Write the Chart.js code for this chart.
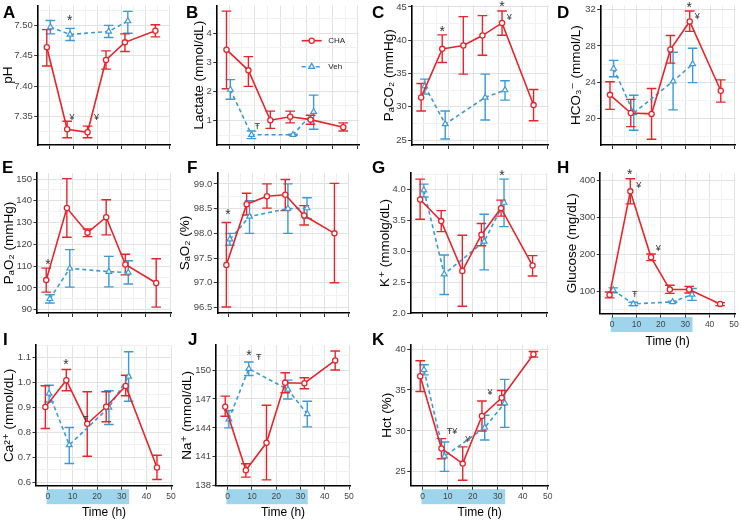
<!DOCTYPE html>
<html>
<head>
<meta charset="utf-8">
<title>CHA vs Veh blood chemistry</title>
<script src="https://cdn.jsdelivr.net/npm/chart.js@4.4.1/dist/chart.umd.min.js"></script>
<style>
  html, body { margin: 0; padding: 0; background: #fff; }
  #wrap { position: relative; width: 741px; height: 520px; overflow: hidden; }
  #wrap canvas { position: absolute; }
</style>
</head>
<body>
<div id="wrap"></div>
<script>
// sampling times (h); CHA sits a bit left of the nominal time, Veh a bit right
const chaTime = [-1, 7.5, 16, 23.7, 31.6, 44.3];
const vehTime = [0.5, 8.7, 24.8, 32.8];
const timeTicks = [0, 10, 20, 30, 40, 50];
const infusionBand = [-0.5, 33]; // shaded hours under the time axis

// A - pH
const phCha = [7.464, 7.329, 7.324, 7.443, 7.472, 7.491];
const phChaLo = [7.433, 7.315, 7.315, 7.428, 7.457, 7.481];
const phChaHi = [7.493, 7.342, 7.334, 7.458, 7.486, 7.501];
const phVeh = [7.497, 7.485, 7.490, 7.507];
const phVehLo = [7.486, 7.475, 7.480, 7.487];
const phVehHi = [7.508, 7.495, 7.500, 7.523];
const phTicks = [7.35, 7.40, 7.45, 7.50];
const phNotes = [[8.6, 7.512, '*'], [9.5, 7.348, '¥'], [19.7, 7.348, '¥']];

// B - lactate
const lacCha = [3.43, 2.72, 1.01, 1.13, 1.03, 0.77];
const lacChaLo = [2.09, 2.17, 0.73, 0.92, 0.87, 0.64];
const lacChaHi = [4.75, 3.19, 1.32, 1.32, 1.18, 0.92];
const lacVeh = [2.06, 0.51, 0.51, 1.30];
const lacVehLo = [1.73, 0.38, 0.49, 0.70];
const lacVehHi = [2.40, 0.64, 0.53, 1.87];
const lacTicks = [1, 2, 3, 4];
const lacNotes = [[10.9, 0.81, 'Ŧ']];

// C - PaCO2
const co2Cha = [31.4, 38.7, 39.2, 40.7, 42.6, 30.25];
const co2ChaLo = [29.35, 36.65, 34.9, 37.75, 40.75, 27.9];
const co2ChaHi = [33.5, 40.8, 43.55, 43.7, 44.4, 32.6];
const co2Veh = [33.1, 27.4, 31.4, 32.5];
const co2VehLo = [31.9, 25.15, 28.0, 31.0];
const co2VehHi = [34.15, 29.35, 34.9, 33.9];
const co2Ticks = [25, 30, 35, 40, 45];
const co2Notes = [[7.5, 41.6, '*'], [31.6, 45.4, '*'], [34.5, 43.4, '¥']];

// D - HCO3-
const hco3Cha = [22.6, 20.6, 20.5, 27.6, 30.7, 23.05];
const hco3ChaLo = [21.0, 19.1, 17.7, 26.1, 29.6, 21.8];
const hco3ChaHi = [24.05, 22.1, 23.3, 29.15, 31.85, 24.25];
const hco3Veh = [25.5, 20.6, 24.1, 26.0];
const hco3VehLo = [24.6, 18.7, 20.95, 23.95];
const hco3VehHi = [26.4, 22.55, 27.3, 27.75];
const hco3Ticks = [20, 24, 28, 32];
const hco3Notes = [[31.4, 32.55, '*'], [34.7, 31.27, '¥']];

// E - PaO2
const o2Cha = [103.6, 136.7, 125.4, 132.5, 110.8, 102.3];
const o2ChaLo = [98.1, 123.3, 123.6, 124.4, 106.0, 91.2];
const o2ChaHi = [109.1, 150.2, 127.1, 140.5, 115.5, 113.4];
const o2Veh = [95.0, 109.0, 107.5, 107.1];
const o2VehLo = [93.1, 100.4, 100.5, 101.8];
const o2VehHi = [96.9, 117.6, 114.5, 112.5];
const o2Ticks = [90, 100, 110, 120, 130, 140, 150];
const o2Notes = [[-0.3, 111.7, '*']];

// F - SaO2
const satCha = [97.36, 98.59, 98.75, 98.78, 98.36, 98.0];
const satChaLo = [96.51, 98.37, 98.51, 98.46, 98.17, 97.0];
const satChaHi = [98.22, 98.81, 99.0, 99.09, 98.56, 99.01];
const satVeh = [97.88, 98.34, 98.5, 98.51];
const satVehLo = [97.76, 98.0, 98.0, 98.3];
const satVehHi = [98.0, 98.66, 99.0, 98.72];
const satTicks = [96.5, 97.0, 97.5, 98.0, 98.5, 99.0];
const satNotes = [[-0.3, 98.42, '*']];

// G - K+
const kCha = [3.84, 3.49, 2.68, 3.27, 3.70, 2.77];
const kChaLo = [3.52, 3.32, 2.11, 3.09, 3.57, 2.60];
const kChaHi = [4.17, 3.66, 3.26, 3.45, 3.83, 2.93];
const kVeh = [3.99, 2.63, 3.16, 3.79];
const kVehLo = [3.88, 2.30, 2.70, 3.40];
const kVehHi = [4.09, 2.94, 3.60, 4.17];
const kTicks = [2.0, 2.5, 3.0, 3.5, 4.0];
const kNotes = [[32, 4.27, '*']];

// H - glucose
const gluCha = [90, 371, 192, 104.5, 104.5, 65.5];
const gluChaLo = [82, 337, 183, 94, 95, 61];
const gluChaHi = [98, 405, 201, 116, 113, 69];
const gluVeh = [103, 65.5, 71, 91];
const gluVehLo = [96, 61, 69, 75];
const gluVehHi = [109, 70, 73, 107.5];
const gluTicks = [100, 200, 300, 400];
const gluNotes = [[7.3, 423, '*'], [11, 387, '¥'], [18.9, 217, '¥'], [9.3, 91, 'Ŧ']];

// I - Ca2+
const caCha = [0.902, 1.009, 0.835, 0.903, 0.986, 0.660];
const caChaLo = [0.816, 0.967, 0.705, 0.843, 0.947, 0.612];
const caChaHi = [0.987, 1.052, 0.963, 0.963, 1.029, 0.709];
const caVeh = [0.956, 0.750, 0.900, 1.024];
const caVehLo = [0.922, 0.676, 0.832, 0.925];
const caVehHi = [0.989, 0.820, 0.967, 1.123];
const caTicks = [0.6, 0.7, 0.8, 0.9, 1.0, 1.1];
const caNotes = [[7.4, 1.083, '*'], [15.4, 0.852, 'Ŧ']];

// J - Na+
const naCha = [146.2, 139.6, 142.45, 148.68, 148.63, 151.0];
const naChaLo = [145.2, 138.89, 138.6, 147.64, 148.06, 150.0];
const naChaHi = [147.3, 140.28, 146.35, 149.72, 149.2, 151.98];
const naVeh = [144.9, 150.14, 147.98, 145.45];
const naVehLo = [144.0, 149.44, 147.0, 144.1];
const naVehHi = [145.8, 150.83, 148.96, 146.77];
const naTicks = [138, 141, 144, 147, 150];
const naNotes = [[8.75, 151.8, '*'], [12.8, 151.35, 'Ŧ']];

// K - Hct
const hctCha = [36.68, 27.85, 26.0, 31.82, 34.05, 39.37];
const hctChaLo = [34.81, 26.6, 23.97, 29.98, 33.17, 39.02];
const hctChaHi = [38.57, 29.06, 28.05, 33.66, 34.93, 39.71];
const hctVeh = [37.46, 26.9, 30.4, 33.4];
const hctVehLo = [36.85, 25.05, 28.88, 30.43];
const hctVehHi = [38.08, 28.65, 31.92, 36.3];
const hctTicks = [25, 30, 35, 40];
const hctNotes = [[11.7, 29.98, 'Ŧ¥'], [18, 28.96, '¥'], [26.9, 34.68, '¥']];

const RED = '#e8242b';
const BLUE = '#3c9bd6';
const BAND = '#9ed5ec';
const GRID_MAJOR = '#e2e2e2';
const GRID_MINOR = '#f1f1f1';
const FONT = '"Liberation Sans", Arial, "DejaVu Sans", sans-serif';
const X_RANGE = [-4.8, 50.4];

Chart.defaults.font.family = FONT;

// layout: box = canvas [x, y, w, h]; area = plot [left, top, right, bottom] in page px
const panels = [
  { letter: 'A', title: 'pH', ticks: phTicks, dec: 2, yRange: [7.303, 7.533],
    cha: [phCha, phChaLo, phChaHi], veh: [phVeh, phVehLo, phVehHi], notes: phNotes,
    box: [0, 0, 185, 152], area: [37.7, 5, 170, 145], titlePad: 0, letterAt: [3, 17.5] },
  { letter: 'B', title: 'Lactate (mmol/dL)', ticks: lacTicks, dec: 0, yRange: [0.16, 4.95],
    cha: [lacCha, lacChaLo, lacChaHi], veh: [lacVeh, lacVehLo, lacVehHi], notes: lacNotes,
    box: [176, 0, 190, 152], area: [216.7, 5, 359, 145], titlePad: 15.2, letterAt: [186, 17.5], legend: true },
  { letter: 'C', title: 'PₐCO₂ (mmHg)', ticks: co2Ticks, dec: 0, yRange: [24.25, 45.25],
    cha: [co2Cha, co2ChaLo, co2ChaHi], veh: [co2Veh, co2VehLo, co2VehHi], notes: co2Notes,
    box: [362, 0, 192, 152], area: [411.7, 5, 550, 145], titlePad: 19.1, letterAt: [372, 17.5] },
  { letter: 'D', title: 'HCO₃⁻ (mmol/L)', ticks: hco3Ticks, dec: 0, yRange: [17.07, 32.48],
    cha: [hco3Cha, hco3ChaLo, hco3ChaHi], veh: [hco3Veh, hco3VehLo, hco3VehHi], notes: hco3Notes,
    box: [545, 0, 196, 152], area: [600.7, 5, 740.5, 145], titlePad: 23.1, letterAt: [557, 17.5] },
  { letter: 'E', title: 'PₐO₂ (mmHg)', ticks: o2Ticks, dec: 0, yRange: [88.5, 152.8],
    cha: [o2Cha, o2ChaLo, o2ChaHi], veh: [o2Veh, o2VehLo, o2VehHi], notes: o2Notes,
    box: [0, 155, 185, 165], area: [37, 173, 171, 313], titlePad: 0.8, letterAt: [2, 173] },
  { letter: 'F', title: 'SₐO₂ (%)', ticks: satTicks, dec: 1, yRange: [96.39, 99.22],
    cha: [satCha, satChaLo, satChaHi], veh: [satVeh, satVehLo, satVehHi], notes: satNotes,
    box: [176, 155, 190, 165], area: [217.3, 173, 349, 313], titlePad: 1.6, letterAt: [187, 173] },
  { letter: 'G', title: 'K⁺ (mmolg/dL)', ticks: kTicks, dec: 1, yRange: [2.0, 4.27],
    cha: [kCha, kChaLo, kChaHi], veh: [kVeh, kVehLo, kVehHi], notes: kNotes,
    box: [362, 155, 192, 165], area: [410.7, 173, 547.7, 313], titlePad: 15.4, letterAt: [372, 173] },
  { letter: 'H', title: 'Glucose (mg/dL)', ticks: gluTicks, dec: 0, yRange: [39.5, 420.8],
    cha: [gluCha, gluChaLo, gluChaHi], veh: [gluVeh, gluVehLo, gluVehHi], notes: gluNotes,
    box: [545, 155, 196, 195], area: [600.3, 173, 735, 313.5], titlePad: 18.8, letterAt: [557, 173], timeAxis: true, timePad: 1.6 },
  { letter: 'I', title: 'Ca²⁺ (mmol/dL)', ticks: caTicks, dec: 1, yRange: [0.587, 1.15],
    cha: [caCha, caChaLo, caChaHi], veh: [caVeh, caVehLo, caVehHi], notes: caNotes,
    box: [0, 328, 185, 192], area: [36, 345, 172, 485.7], titlePad: 0.8, letterAt: [3, 345], timeAxis: true, timePad: 0 },
  { letter: 'J', title: 'Na⁺ (mmol/dL)', ticks: naTicks, dec: 0, yRange: [138.0, 152.6],
    cha: [naCha, naChaLo, naChaHi], veh: [naVeh, naVehLo, naVehHi], notes: naNotes,
    box: [176, 328, 190, 192], area: [216, 345, 350, 485.7], titlePad: 3.1, letterAt: [188, 345], timeAxis: true, timePad: 0 },
  { letter: 'K', title: 'Hct (%)', ticks: hctTicks, dec: 0, yRange: [23.3, 40.5],
    cha: [hctCha, hctChaLo, hctChaHi], veh: [hctVeh, hctVehLo, hctVehHi], notes: hctNotes,
    box: [362, 328, 192, 192], area: [410.7, 345, 549, 485.7], titlePad: 17.1, letterAt: [372, 345], timeAxis: true, timePad: 0 },
];

// major ticks plus the half-way minor lines ggplot draws
const gridValues = (major, lo, hi) => {
  const step = major[1] - major[0];
  const out = [];
  for (let i = -2; i <= 2 * (major.length - 1) + 2; i++) {
    const v = +(major[0] + i * step / 2).toFixed(9);
    if (v >= lo - 1e-9 && v <= hi + 1e-9) out.push(v);
  }
  return out;
};
const onStep = (v, major) => {
  const step = major[1] - major[0];
  const k = (v - major[0]) / step;
  return Math.abs(k - Math.round(k)) < 1e-6;
};

const drawTriangle = (ctx, x, y, r) => {
  ctx.beginPath();
  ctx.moveTo(x, y - r);
  ctx.lineTo(x + r * 0.866, y + r * 0.5);
  ctx.lineTo(x - r * 0.866, y + r * 0.5);
  ctx.closePath();
};

const extras = p => ({
  id: 'extras' + p.letter,
  beforeDraw(chart) {
    if (!p.timeAxis) return;
    const { ctx, chartArea } = chart;
    const xs = chart.scales.x;
    const x0 = xs.getPixelForValue(infusionBand[0]);
    const x1 = xs.getPixelForValue(infusionBand[1]);
    ctx.save();
    ctx.fillStyle = BAND;
    ctx.fillRect(x0, chartArea.bottom + 3.5, x1 - x0, 15);
    ctx.restore();
  },
  beforeDatasetsDraw(chart) {
    // error bars, Veh first so CHA sits on top
    const { ctx } = chart;
    const ys = chart.scales.y;
    ctx.save();
    ctx.lineWidth = 1.4;
    for (let i = chart.data.datasets.length - 1; i >= 0; i--) {
      const ds = chart.data.datasets[i];
      const meta = chart.getDatasetMeta(i);
      ctx.strokeStyle = ds.borderColor;
      meta.data.forEach((pt, j) => {
        const yTop = ys.getPixelForValue(ds.errHi[j]);
        const yBot = ys.getPixelForValue(ds.errLo[j]);
        const cap = 4.8;
        ctx.beginPath();
        ctx.moveTo(pt.x, yTop); ctx.lineTo(pt.x, yBot);
        ctx.moveTo(pt.x - cap, yTop); ctx.lineTo(pt.x + cap, yTop);
        ctx.moveTo(pt.x - cap, yBot); ctx.lineTo(pt.x + cap, yBot);
        ctx.stroke();
      });
    }
    ctx.restore();
  },
  afterDraw(chart) {
    const { ctx } = chart;
    const xs = chart.scales.x, ys = chart.scales.y;
    const [bx, by] = p.box;
    ctx.save();
    // significance marks
    ctx.fillStyle = '#333';
    ctx.textAlign = 'center';
    ctx.textBaseline = 'middle';
    p.notes.forEach(([t, v, s]) => {
      const star = s === '*';
      ctx.font = star ? '14px ' + FONT : '9px ' + FONT;
      ctx.fillText(s, xs.getPixelForValue(t), ys.getPixelForValue(v) + (star ? 3 : 0));
    });
    // legend (panel B only)
    if (p.legend) {
      const lx = 301.7 - bx, tx = 328.3 - bx;
      const rows = [[40.7, RED, [], 'CHA'], [66.7, BLUE, [4, 3], 'Veh']];
      rows.forEach(([ly, col, dash, name], k) => {
        ctx.strokeStyle = col;
        ctx.lineWidth = 1.6;
        ctx.setLineDash(dash);
        ctx.beginPath(); ctx.moveTo(lx, ly); ctx.lineTo(lx + 20, ly); ctx.stroke();
        ctx.setLineDash([]);
        ctx.fillStyle = '#fff';
        ctx.lineWidth = 1.3;
        if (k === 0) { ctx.beginPath(); ctx.arc(lx + 10, ly, 2.6, 0, Math.PI * 2); }
        else drawTriangle(ctx, lx + 10, ly, 3.3);
        ctx.fill(); ctx.stroke();
        ctx.fillStyle = '#222';
        ctx.font = '8px ' + FONT;
        ctx.textAlign = 'left';
        ctx.fillText(name, tx, ly + 0.5);
      });
    }
    // panel letter
    ctx.fillStyle = '#000';
    ctx.font = 'bold 17px ' + FONT;
    ctx.textAlign = 'left';
    ctx.textBaseline = 'alphabetic';
    ctx.fillText(p.letter, p.letterAt[0] - bx, p.letterAt[1] - by);
    ctx.restore();
  }
});

const wrap = document.getElementById('wrap');

panels.forEach(p => {
  const [bx, by, bw, bh] = p.box;
  const [al, at, ar, ab] = p.area;
  const cv = document.createElement('canvas');
  cv.width = bw; cv.height = bh;
  cv.style.left = bx + 'px'; cv.style.top = by + 'px';
  cv.style.width = bw + 'px'; cv.style.height = bh + 'px';
  wrap.appendChild(cv);

  const yGrid = gridValues(p.ticks, p.yRange[0], p.yRange[1]);
  const xGrid = gridValues(timeTicks, X_RANGE[0], X_RANGE[1]);
  const isLabelled = (v, list) => list.some(t => Math.abs(t - v) < 1e-6);

  new Chart(cv, {
    type: 'line',
    data: {
      datasets: [
        {
          label: 'CHA',
          data: chaTime.map((t, i) => ({ x: t, y: p.cha[0][i] })),
          errLo: p.cha[1], errHi: p.cha[2],
          borderColor: RED, borderWidth: 1.6,
          pointStyle: 'circle', pointRadius: 2.6, pointBorderWidth: 1.3,
          pointBackgroundColor: '#fff', pointBorderColor: RED,
          tension: 0, fill: false,
        },
        {
          label: 'Veh',
          data: vehTime.map((t, i) => ({ x: t, y: p.veh[0][i] })),
          errLo: p.veh[1], errHi: p.veh[2],
          borderColor: BLUE, borderWidth: 1.6, borderDash: [4, 3],
          pointStyle: 'triangle', pointRadius: 3.3, pointBorderWidth: 1.2,
          pointBackgroundColor: '#fff', pointBorderColor: BLUE,
          tension: 0, fill: false,
        },
      ],
    },
    options: {
      responsive: false,
      animation: false,
      devicePixelRatio: 1,
      layout: { padding: { left: 0, top: at - by, right: bx + bw - ar, bottom: 0 } },
      plugins: { legend: { display: false }, tooltip: { enabled: false } },
      scales: {
        x: {
          type: 'linear',
          min: X_RANGE[0], max: X_RANGE[1],
          afterBuildTicks: s => { s.ticks = xGrid.map(v => ({ value: v })); },
          afterFit: s => { s.height = by + bh - ab; s.paddingLeft = 0; s.paddingRight = 0; },
          ticks: {
            display: !!p.timeAxis,
            autoSkip: false, maxRotation: 0, padding: 2,
            color: '#444', font: { size: 8.5 },
            callback: v => (isLabelled(v, timeTicks) ? String(v) : ''),
          },
          grid: {
            color: c => (onStep(c.tick.value, timeTicks) ? GRID_MAJOR : GRID_MINOR),
            tickColor: c => (onStep(c.tick.value, timeTicks) ? '#333' : 'rgba(0,0,0,0)'),
            tickLength: 4,
            lineWidth: 1,
          },
          border: { display: true, color: '#000', width: 1.6 },
          title: {
            display: !!p.timeAxis, text: 'Time (h)', color: '#000',
            font: { size: 12 }, padding: { top: 0, bottom: p.timePad || 0 },
          },
        },
        y: {
          min: p.yRange[0], max: p.yRange[1],
          afterBuildTicks: s => { s.ticks = yGrid.map(v => ({ value: v })); },
          afterFit: s => { s.width = al - bx; s.paddingTop = 0; s.paddingBottom = 0; },
          ticks: {
            autoSkip: false, padding: 1.5,
            color: '#444', font: { size: 9.5 },
            callback: v => (isLabelled(v, p.ticks) ? v.toFixed(p.dec) : ''),
          },
          grid: {
            color: c => (onStep(c.tick.value, p.ticks) ? GRID_MAJOR : GRID_MINOR),
            tickColor: c => (onStep(c.tick.value, p.ticks) ? '#333' : 'rgba(0,0,0,0)'),
            tickLength: 3.5,
            lineWidth: 1,
          },
          border: { display: true, color: '#000', width: 1.6 },
          title: {
            display: true, text: p.title, color: '#000',
            font: { size: 13.5 }, padding: { top: p.titlePad, bottom: 0 },
          },
        },
      },
    },
    plugins: [extras(p)],
  });
});
</script>
</body>
</html>
